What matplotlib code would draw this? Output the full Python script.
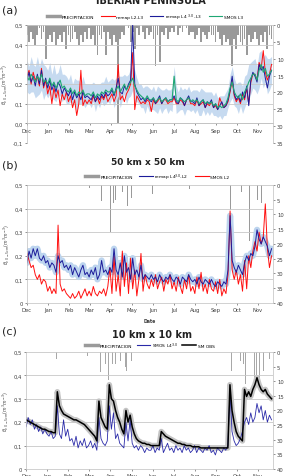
import numpy as np
import matplotlib
matplotlib.use("Agg")
import matplotlib.pyplot as plt
from matplotlib.lines import Line2D
from matplotlib.ticker import FuncFormatter

months = ["Dec", "Jan", "Feb", "Mar", "Apr", "May", "Jun", "Jul", "Aug", "Sep", "Oct", "Nov"]
days = np.arange(0, 357, 3)   # one sample every 3 days, Dec 1 = day 0

# ---- (a) IBERIAN PENINSULA ----
a_red = [0.24, 0.27, 0.20, 0.26, 0.22, 0.24, 0.19, 0.28, 0.18, 0.22,
         0.15, 0.19, 0.10, 0.18, 0.13, 0.17, 0.09, 0.15, 0.12, 0.16,
         0.11, 0.14, 0.08, 0.12, 0.04, 0.10, 0.27, 0.09, 0.12, 0.10,
         0.12, 0.10, 0.14, 0.11, 0.13, 0.10, 0.14, 0.12, 0.15, 0.11,
         0.13, 0.15, 0.11, 0.14, 0.30, 0.12, 0.14, 0.11, 0.15, 0.17,
         0.20, 0.36, 0.07, 0.14, 0.12, 0.10, 0.11, 0.10, 0.12, 0.11,
         0.06, 0.12, 0.10, 0.11, 0.13, 0.10, 0.12, 0.12, 0.10, 0.11,
         0.11, 0.13, 0.10, 0.10, 0.12, 0.11, 0.09, 0.12, 0.13, 0.10,
         0.10, 0.09, 0.12, 0.09, 0.10, 0.11, 0.08, 0.10, 0.09, 0.11,
         0.08, 0.09, 0.07, 0.13, 0.10, 0.08, 0.09, 0.11, 0.16, 0.22,
         0.14, 0.11, 0.13, 0.10, 0.15, 0.12, 0.18, 0.10, 0.21, 0.25,
         0.25, 0.22, 0.31, 0.28, 0.37, 0.26, 0.22, 0.25, 0.30]
a_blue = [0.22, 0.26, 0.21, 0.24, 0.19, 0.25, 0.20, 0.27, 0.19, 0.23,
          0.18, 0.22, 0.17, 0.20, 0.16, 0.21, 0.19, 0.15, 0.18, 0.16,
          0.14, 0.17, 0.12, 0.16, 0.13, 0.15, 0.12, 0.16, 0.13, 0.14,
          0.13, 0.12, 0.15, 0.11, 0.14, 0.12, 0.15, 0.13, 0.16, 0.14,
          0.15, 0.17, 0.14, 0.18, 0.23, 0.16, 0.15, 0.19, 0.17, 0.20,
          0.22, 0.50, 0.20, 0.16, 0.14, 0.12, 0.13, 0.11, 0.13, 0.12,
          0.11, 0.13, 0.10, 0.12, 0.14, 0.10, 0.12, 0.13, 0.11, 0.12,
          0.12, 0.14, 0.11, 0.10, 0.13, 0.12, 0.09, 0.12, 0.14, 0.11,
          0.11, 0.10, 0.13, 0.09, 0.11, 0.12, 0.08, 0.11, 0.10, 0.12,
          0.08, 0.10, 0.07, 0.09, 0.11, 0.08, 0.09, 0.12, 0.17, 0.24,
          0.15, 0.12, 0.14, 0.11, 0.16, 0.13, 0.19, 0.09, 0.22, 0.26,
          0.24, 0.21, 0.30, 0.27, 0.29, 0.23, 0.18, 0.24, 0.27]
a_green = [0.24, 0.22, 0.25, 0.23, 0.21, 0.24, 0.22, 0.25, 0.21, 0.22,
           0.20, 0.23, 0.19, 0.21, 0.18, 0.20, 0.22, 0.18, 0.19, 0.17,
           0.16, 0.18, 0.15, 0.17, 0.14, 0.16, 0.15, 0.17, 0.14, 0.15,
           0.15, 0.14, 0.16, 0.13, 0.15, 0.14, 0.16, 0.15, 0.17, 0.16,
           0.16, 0.18, 0.15, 0.17, 0.19, 0.16, 0.18, 0.20, 0.17, 0.19,
           0.21, 0.23, 0.19, 0.17, 0.15, 0.14, 0.13, 0.12, 0.14, 0.12,
           0.12, 0.13, 0.11, 0.12, 0.13, 0.11, 0.12, 0.13, 0.11, 0.12,
           0.12, 0.24, 0.12, 0.11, 0.13, 0.12, 0.11, 0.12, 0.13, 0.11,
           0.12, 0.11, 0.12, 0.10, 0.11, 0.12, 0.10, 0.11, 0.10, 0.11,
           0.09, 0.10, 0.08, 0.09, 0.08, 0.09, 0.10, 0.13, 0.18, 0.21,
           0.16, 0.14, 0.13, 0.15, 0.12, 0.16, 0.18, 0.21, 0.23, 0.25,
           0.25, 0.22, 0.27, 0.30, 0.26, 0.28, 0.24, 0.25, 0.27]
a_sd = [0.08, 0.07, 0.09, 0.07, 0.08, 0.10, 0.07, 0.08, 0.09, 0.07,
        0.07, 0.08, 0.06, 0.09, 0.07, 0.06, 0.08, 0.07, 0.06, 0.07,
        0.06, 0.07, 0.05, 0.06, 0.08, 0.06, 0.05, 0.07, 0.06, 0.05,
        0.05, 0.06, 0.05, 0.07, 0.05, 0.06, 0.05, 0.06, 0.07, 0.05,
        0.06, 0.05, 0.07, 0.06, 0.05, 0.08, 0.06, 0.05, 0.07, 0.06,
        0.07, 0.06, 0.08, 0.06, 0.05, 0.06, 0.05, 0.07, 0.05, 0.06,
        0.05, 0.06, 0.05, 0.07, 0.05, 0.06, 0.05, 0.05, 0.06, 0.05,
        0.06, 0.05, 0.07, 0.05, 0.06, 0.05, 0.07, 0.05, 0.06, 0.05,
        0.05, 0.06, 0.05, 0.06, 0.07, 0.05, 0.06, 0.05, 0.06, 0.05,
        0.05, 0.06, 0.05, 0.05, 0.06, 0.05, 0.06, 0.05, 0.07, 0.08,
        0.07, 0.06, 0.08, 0.06, 0.07, 0.08, 0.07, 0.09, 0.08, 0.07,
        0.08, 0.07, 0.09, 0.07, 0.08, 0.07, 0.09, 0.08, 0.07]
a_precip = [3, 5, 2, 4, 6, 3, 1, 4, 2, 10,
            4, 3, 5, 2, 6, 4, 3, 5, 2, 7,
            3, 5, 4, 2, 4, 6, 3, 5, 2, 4,
            1, 4, 3, 6, 9, 3, 4, 2, 9, 2,
            4, 6, 3, 5, 29, 4, 2, 3, 0, 1,
            5, 2, 7, 1, 3, 0, 2, 4, 1, 3,
            2, 4, 12, 3, 11, 2, 3, 1, 4, 2,
            1, 2, 0, 3, 1, 2, 0, 1, 3, 2,
            2, 4, 3, 1, 5, 2, 3, 4, 2, 3,
            3, 5, 2, 4, 6, 3, 5, 4, 6, 12,
            4, 7, 3, 5, 6, 4, 9, 3, 5, 4,
            2, 4, 6, 3, 5, 2, 7, 3, 4]

# ---- (b) 50 km x 50 km ----
b_blue = [0.17, 0.22, 0.19, 0.23, 0.20, 0.23, 0.19, 0.18, 0.20, 0.17,
          0.18, 0.15, 0.17, 0.16, 0.13, 0.20, 0.17, 0.18, 0.15, 0.16,
          0.14, 0.16, 0.12, 0.15, 0.13, 0.11, 0.14, 0.16, 0.12, 0.13,
          0.11, 0.14, 0.12, 0.15, 0.10, 0.12, 0.18, 0.13, 0.14, 0.12,
          0.15, 0.13, 0.23, 0.14, 0.12, 0.17, 0.11, 0.20, 0.13, 0.15,
          0.10, 0.19, 0.12, 0.14, 0.11, 0.16, 0.10, 0.12, 0.11, 0.10,
          0.12, 0.10, 0.11, 0.09, 0.12, 0.10, 0.09, 0.11, 0.10, 0.12,
          0.10, 0.09, 0.11, 0.10, 0.08, 0.11, 0.10, 0.09, 0.12, 0.10,
          0.09, 0.10, 0.08, 0.11, 0.09, 0.08, 0.10, 0.09, 0.08, 0.10,
          0.08, 0.07, 0.09, 0.08, 0.07, 0.09, 0.08, 0.14, 0.37, 0.18,
          0.15, 0.13, 0.16, 0.14, 0.12, 0.17, 0.20, 0.18, 0.21, 0.20,
          0.24, 0.31, 0.27, 0.25, 0.28, 0.26, 0.24, 0.20, 0.23]
b_red = [0.21, 0.18, 0.15, 0.16, 0.12, 0.10, 0.12, 0.08, 0.10, 0.09,
         0.05, 0.07, 0.04, 0.06, 0.04, 0.33, 0.08, 0.05, 0.06, 0.04,
         0.03, 0.02, 0.04, 0.02, 0.03, 0.05, 0.02, 0.04, 0.06, 0.03,
         0.05, 0.03, 0.07, 0.04, 0.03, 0.05, 0.04, 0.06, 0.03, 0.07,
         0.15, 0.04, 0.20, 0.05, 0.12, 0.03, 0.22, 0.07, 0.17, 0.04,
         0.19, 0.06, 0.14, 0.03, 0.10, 0.21, 0.05, 0.12, 0.08, 0.06,
         0.10, 0.07, 0.12, 0.06, 0.09, 0.11, 0.05, 0.10, 0.08, 0.12,
         0.06, 0.09, 0.05, 0.11, 0.07, 0.04, 0.10, 0.06, 0.12, 0.05,
         0.07, 0.04, 0.11, 0.06, 0.13, 0.05, 0.08, 0.04, 0.10, 0.06,
         0.05, 0.09, 0.04, 0.10, 0.03, 0.06, 0.04, 0.12, 0.39, 0.14,
         0.10, 0.14, 0.08, 0.12, 0.05, 0.18, 0.06, 0.20, 0.15, 0.22,
         0.26, 0.22, 0.30, 0.25, 0.28, 0.42, 0.23, 0.15, 0.20]
b_rain_day = [45, 90, 108, 110, 121, 123, 125, 128, 138, 146, 151, 182,
              197, 235, 295, 298, 311, 317, 320, 322, 330, 334, 339, 343]
b_rain_mm = [10.5, 1, 5.5, 8, 16, 8, 6, 5, 2.5, 7, 4.5, 3,
             5.5, 1.5, 8.5, 4.5, 2.5, 29, 9, 19, 10, 5, 6, 3.5]

# ---- (c) 10 km x 10 km ----
c_blue = [0.18, 0.22, 0.19, 0.21, 0.17, 0.19, 0.16, 0.18, 0.15, 0.17,
          0.15, 0.14, 0.16, 0.13, 0.14, 0.27, 0.15, 0.13, 0.21, 0.14,
          0.17, 0.12, 0.13, 0.10, 0.14, 0.09, 0.12, 0.10, 0.13, 0.09,
          0.10, 0.12, 0.09, 0.11, 0.08, 0.22, 0.13, 0.11, 0.10, 0.12,
          0.27, 0.17, 0.24, 0.13, 0.15, 0.11, 0.10, 0.09, 0.20, 0.12,
          0.21, 0.11, 0.09, 0.10, 0.08, 0.10, 0.09, 0.07, 0.09, 0.08,
          0.08, 0.10, 0.07, 0.09, 0.08, 0.13, 0.07, 0.09, 0.11, 0.08,
          0.09, 0.07, 0.10, 0.08, 0.09, 0.07, 0.10, 0.08, 0.09, 0.07,
          0.08, 0.10, 0.07, 0.09, 0.08, 0.07, 0.09, 0.08, 0.10, 0.07,
          0.08, 0.06, 0.09, 0.08, 0.07, 0.09, 0.08, 0.10, 0.33, 0.16,
          0.12, 0.10, 0.11, 0.13, 0.16, 0.20, 0.22, 0.19, 0.24, 0.20,
          0.22, 0.28, 0.24, 0.27, 0.21, 0.25, 0.20, 0.23, 0.21]
c_obs = [0.21, 0.205, 0.20, 0.195, 0.19, 0.185, 0.18, 0.175, 0.17, 0.17,
         0.165, 0.16, 0.16, 0.155, 0.155, 0.33, 0.27, 0.25, 0.235, 0.23,
         0.225, 0.22, 0.215, 0.21, 0.21, 0.205, 0.20, 0.195, 0.19, 0.18,
         0.17, 0.16, 0.15, 0.14, 0.12, 0.29, 0.22, 0.20, 0.18, 0.17,
         0.36, 0.30, 0.29, 0.25, 0.22, 0.20, 0.17, 0.15, 0.25, 0.20,
         0.23, 0.18, 0.15, 0.13, 0.12, 0.115, 0.11, 0.11, 0.105, 0.105,
         0.10, 0.10, 0.10, 0.10, 0.10, 0.16, 0.15, 0.14, 0.135, 0.13,
         0.125, 0.12, 0.115, 0.11, 0.11, 0.105, 0.105, 0.10, 0.10, 0.10,
         0.095, 0.095, 0.095, 0.095, 0.09, 0.09, 0.09, 0.09, 0.09, 0.09,
         0.09, 0.09, 0.09, 0.09, 0.09, 0.09, 0.09, 0.09, 0.36, 0.25,
         0.20, 0.16, 0.14, 0.13, 0.12, 0.34, 0.31, 0.33, 0.31, 0.34,
         0.36, 0.39, 0.36, 0.34, 0.33, 0.34, 0.32, 0.31, 0.30]
c_rain_day = [44, 89, 105, 107, 114, 118, 119, 121, 124, 129, 136, 143, 145,
              152, 294, 296, 309, 313, 317, 323, 329, 332, 337, 342, 346, 351]
c_rain_mm = [2.5, 1.5, 5, 7, 4, 6.5, 9.5, 8, 4, 4, 3, 5, 6.5,
             3, 11, 6.5, 3, 4, 11, 8, 13.5, 11, 9.5, 6.5, 5, 2.5]

RED = "#ff1010"
BLUE = "#1c1c9a"
GREEN = "#1fa774"
GRAY = "#9a9a9a"
FS = 3.8
TXT = "#404040"


def comma(v, pos):
    if abs(v) < 1e-9:
        return "0,0" if comma.a else "0"
    return ("%.1f" % v).replace(".", ",")


def setup(ax, ymin, rmax, is_a):
    ax2 = ax.twinx()
    ax.set_zorder(ax2.get_zorder() + 1)
    ax.patch.set_visible(False)
    ax.set_xlim(0, 356)
    ax.set_ylim(ymin, 0.5)
    ax.set_yticks(np.arange(ymin, 0.51, 0.1))
    comma.a = is_a
    labels = [comma(v, 0) for v in np.arange(ymin, 0.51, 0.1)]
    ax.set_yticklabels(labels)
    ax.yaxis.grid(True, color="#c8c8c8", lw=0.6)
    ax.set_xticks(np.arange(12) * 30.4)
    ax.set_xticklabels(months)
    ax.tick_params(labelsize=FS, colors=TXT, length=1.5, width=0.4, pad=1.5)
    for s in ["top", "right"]:
        ax.spines[s].set_visible(False)
    ax.spines["left"].set_color("#bfbfbf")
    ax.spines["bottom"].set_color("#bfbfbf")
    ax.spines["left"].set_linewidth(0.5)
    ax.spines["bottom"].set_linewidth(0.5)
    ax.spines["bottom"].set_position(("data", 0))
    ax.set_ylabel(r"$\theta_{v\ 0-5cm}(m^3m^{-3})$", fontsize=3.3, color=TXT, labelpad=2)
    ax2.set_ylim(rmax, 0)
    ax2.set_yticks(np.arange(0, rmax + 1, 5))
    ax2.tick_params(labelsize=FS, colors=TXT, length=1.5, width=0.4, pad=1.5)
    for s in ["top", "left", "bottom"]:
        ax2.spines[s].set_visible(False)
    ax2.spines["right"].set_color("#bfbfbf")
    ax2.spines["right"].set_linewidth(0.5)
    return ax2


fig = plt.figure(figsize=(2.84, 4.77), dpi=100)

# (a)
ax = fig.add_axes([0.095, 0.698, 0.866, 0.2474])
ax2 = setup(ax, -0.1, 35, True)
ax2.bar(days, a_precip, width=2.6, color=GRAY, linewidth=0)
lo = np.array(a_green) - np.array(a_sd)
hi = np.array(a_green) + np.array(a_sd)
ax.fill_between(days, lo, hi, color="#c6daf0", lw=0)
ax.plot(days, a_red, color=RED, lw=0.7)
ax.plot(days, a_blue, color=BLUE, lw=0.7)
ax.plot(days, a_green, color=GREEN, lw=0.8)
ax.legend([Line2D([], [], color=GRAY, lw=2.5), Line2D([], [], color=RED, lw=0.8),
           Line2D([], [], color=BLUE, lw=0.8), Line2D([], [], color=GREEN, lw=0.8)],
          ["PRECIPITACION", "remap L2-L3", r"remap L4 $^{3.0}$ -L3", "SMOS L3"],
          loc="center", bbox_to_anchor=(0.48, 1.07), ncol=4, frameon=False,
          fontsize=3.2, handlelength=3, columnspacing=1.5, handletextpad=0.4)

# (b)
ax = fig.add_axes([0.095, 0.3627, 0.866, 0.2474])
ax2 = setup(ax, 0.0, 40, False)
ax2.bar(b_rain_day, b_rain_mm, width=1.0, color=GRAY, linewidth=0)
ax.plot(days, b_blue, color="#bcd4ee", lw=4.5, solid_capstyle="round")
ax.plot(days, b_red, color=RED, lw=0.7)
ax.plot(days, b_blue, color=BLUE, lw=0.7)
ax.set_xlabel("Date", fontsize=3.3, fontweight="bold", color=TXT, labelpad=4)
ax.legend([Line2D([], [], color=GRAY, lw=2.5), Line2D([], [], color=BLUE, lw=0.8),
           Line2D([], [], color=RED, lw=0.8)],
          ["PRECIPITACION", r"remap L4$^{3.0}$-L2", "SMOS L2"],
          loc="center", bbox_to_anchor=(0.53, 1.07), ncol=3, frameon=False,
          fontsize=3.2, handlelength=3, columnspacing=1.5, handletextpad=0.4)

# (c)
ax = fig.add_axes([0.092, 0.0147, 0.869, 0.2453])
ax2 = setup(ax, 0.0, 40, False)
ax2.bar(c_rain_day, c_rain_mm, width=1.2, color="#a8a8a8", linewidth=0)
ax.plot(days, c_obs, color="#c4c4c4", lw=4.0, solid_capstyle="round")
ax.plot(days, c_blue, color="#2a2aa8", lw=0.6)
ax.plot(days, c_obs, color="black", lw=1.1)
ax.legend([Line2D([], [], color=GRAY, lw=2.5), Line2D([], [], color="#2a2aa8", lw=0.8),
           Line2D([], [], color="black", lw=1.1)],
          ["PRECIPITACION", r"SMOS L4$^{3.0}$", "SM OBS"],
          loc="center", bbox_to_anchor=(0.5, 1.06), ncol=3, frameon=False,
          fontsize=3.2, handlelength=3, columnspacing=1.0, handletextpad=0.4)

fig.text(0.532, 0.998, "IBERIAN PENINSULA", ha="center", va="center",
         fontsize=7, fontweight="bold", color="#222222")
fig.text(0.008, 0.977, "(a)", ha="left", va="center", fontsize=8, color="#222222")
fig.text(0.52, 0.66, "50 km x 50 km", ha="center", va="center",
         fontsize=6.5, fontweight="bold", color="#222222")
fig.text(0.008, 0.652, "(b)", ha="left", va="center", fontsize=8, color="#222222")
fig.text(0.008, 0.304, "(c)", ha="left", va="center", fontsize=8, color="#222222")
fig.text(0.535, 0.298, "10 km x 10 km", ha="center", va="center",
         fontsize=7, fontweight="bold", color="#222222")

fig.savefig("out.png", dpi=100)
